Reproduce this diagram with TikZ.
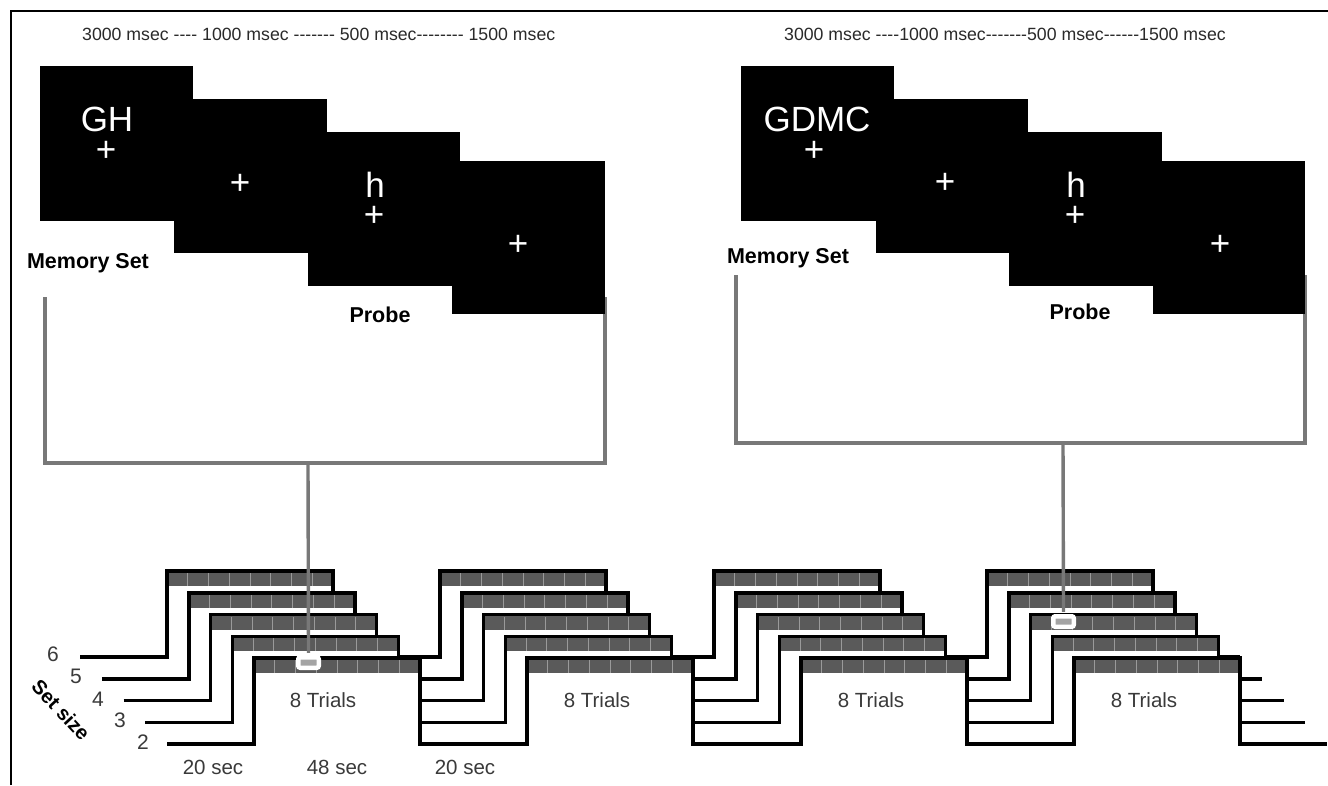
\documentclass[tikz,border=0pt]{standalone}
\usepackage{fontspec}
\setmainfont{Liberation Sans}
\definecolor{barg}{HTML}{5A5A5A}
\definecolor{divg}{HTML}{9A9A9A}
\definecolor{conng}{HTML}{787878}
\definecolor{markg}{HTML}{A4A4A4}
\definecolor{txtg}{HTML}{3A3A3A}
\definecolor{toptxt}{HTML}{2A2A2A}
\newcommand\fs[1]{\fontsize{#1}{#1}\selectfont}
\newcommand\wv[1]{\path[#1] (80+\dx,\yl) -- (167+\dx,\yl) -- (167+\dx,\yh) -- (333+\dx,\yh) -- (333+\dx,\yl) -- (440+\dx,\yl) -- (440+\dx,\yh) -- (606+\dx,\yh) -- (606+\dx,\yl) -- (714+\dx,\yl) -- (714+\dx,\yh) -- (880+\dx,\yh) -- (880+\dx,\yl) -- (987+\dx,\yl) -- (987+\dx,\yh) -- (1153+\dx,\yh) -- (1153+\dx,\yl) -- (1240+\dx,\yl);}
\begin{document}
\begin{tikzpicture}[x=1pt,y=-1pt]
\tikzset{
  scr/.style={fill=black},
  wave/.style={draw=black, line width=3.6pt, line join=miter},
  conn/.style={draw=conng, line width=3.4pt},
  mk/.style={draw=white, line width=4.5pt, fill=markg, rounded corners=2pt, minimum width=20.5pt, minimum height=10.5pt, inner sep=0pt},
  toplbl/.style={inner sep=0pt, text=toptxt, font=\fs{17.7}},
  stim/.style={inner sep=0pt, text=white, font=\fs{35}},
  boldlbl/.style={inner sep=0pt, text=black, font=\fs{21.5}\bfseries},
  glbl/.style={inner sep=0pt, text=txtg, font=\fs{20.5}},
  digl/.style={inner sep=0pt, text=txtg, font=\fs{21}},
}
\useasboundingbox (0,0) rectangle (1328,785);
\fill[white] (0,0) rectangle (1328,785);
% frame
\draw[line width=2pt] (10.5,785) -- (10.5,11) -- (1328,11);

% top labels
\node[toplbl, anchor=west] (tl) at (82,34) {3000 msec -{}-{}-{}- 1000 msec -{}-{}-{}-{}-{}-{}- 500 msec-{}-{}-{}-{}-{}-{}-{}- 1500 msec};
\node[toplbl, anchor=west] (tr) at (784,34) {3000 msec -{}-{}-{}-1000 msec-{}-{}-{}-{}-{}-{}-500 msec-{}-{}-{}-{}-{}-1500 msec};

% gray brackets (behind screens)
\coordinate (la) at (45,297);
\coordinate (lb) at (605,297);
\coordinate (lc) at (308,463);
\draw[conn] (la) -- (45,463) -- (605,463) -- (lb);
\coordinate (ra) at (736,275);
\coordinate (rb) at (1305,275);
\coordinate (rc) at (1063,443);
\draw[conn] (ra) -- (736,443) -- (1305,443) -- (rb);

% screens left
\fill[scr] (40,66) rectangle ++(153,155);
\fill[scr] (174,99) rectangle ++(153,154);
\fill[scr] (308,132) rectangle ++(152,154);
\fill[scr] (452,161) rectangle ++(153,153);
% screens right
\fill[scr] (741,66) rectangle ++(153,155);
\fill[scr] (876,99) rectangle ++(152,154);
\fill[scr] (1009,132) rectangle ++(153,154);
\fill[scr] (1153,161) rectangle ++(152,153);

% stimuli left
\node[stim, anchor=base] (gh) at (107,131) {GH};
\node[stim] (c1) at (106,151) {+};
\node[stim] (c2) at (240,184) {+};
\node[stim, anchor=base] (h1) at (375,197) {h};
\node[stim] (c3) at (374,216) {+};
\node[stim] (c4) at (518,245) {+};
% stimuli right
\node[stim, anchor=base] (gdmc) at (817,131) {GDMC};
\node[stim] (d1) at (814,151) {+};
\node[stim] (d2) at (945,183) {+};
\node[stim, anchor=base] (h2) at (1076,197) {h};
\node[stim] (d3) at (1075,216) {+};
\node[stim] (d4) at (1220,245) {+};

\node[boldlbl] (ms1) at (88,263) {Memory Set};
\node[boldlbl] (pr1) at (380,315) {Probe};
\node[boldlbl] (ms2) at (788,258) {Memory Set};
\node[boldlbl] (pr2) at (1080,312) {Probe};

% block design rows (back to front)
\foreach \i in {0,...,4}{
  \pgfmathsetmacro\dx{21.8*\i}
  \pgfmathsetmacro\yl{657+21.8*\i}
  \pgfmathsetmacro\yh{\yl-86}
  \wv{fill=white}
  \foreach \r in {167,440,714,987}{
    \fill[barg] ({\r+\dx},\yh) rectangle ({\r+166+\dx},{\yh+15});
    \foreach \j in {1,...,7}{
      \draw[divg, line width=1pt] ({\r+\dx+20.75*\j},{\yh+2}) -- ({\r+\dx+20.75*\j},{\yh+15});
    }
  }
  \wv{wave}
}

% set size labels
\node[digl] (s6) at (53,654) {6};
\node[digl] (s5) at (76,676) {5};
\node[digl] (s4) at (98,699) {4};
\node[digl] (s3) at (120,720) {3};
\node[digl] (s2) at (143,742) {2};
\node[boldlbl, font=\fs{20}\bfseries, rotate=-47] (ss) at (61,710) {Set size};

% trials / durations
\node[glbl] (t1) at (323,700) {8 Trials};
\node[glbl] (t2) at (597,700) {8 Trials};
\node[glbl] (t3) at (871,700) {8 Trials};
\node[glbl] (t4) at (1144,700) {8 Trials};
\node[glbl, anchor=base] (d20a) at (213,774) {20 sec};
\node[glbl, anchor=base] (d48) at (337,774) {48 sec};
\node[glbl, anchor=base] (d20b) at (465,774) {20 sec};

% probe markers and their connectors
\node[mk] (mA) at (308.5,662.5) {};
\node[mk] (mB) at (1063.5,621.5) {};
\draw[conn, shorten >=2.2pt] (lc) -- (mA.north);
\draw[conn, shorten >=2.2pt] (rc) -- (mB.north);
\end{tikzpicture}
\end{document}
